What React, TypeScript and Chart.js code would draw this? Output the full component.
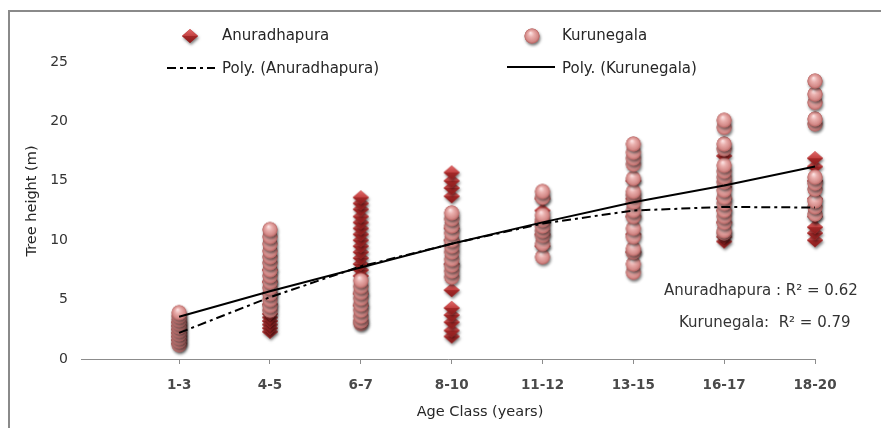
import React, { useEffect, useRef } from 'react';
import { Chart, registerables } from 'chart.js';

Chart.register(...registerables);

// ---------- data ----------
const ageClasses = ['1-3', '4-5', '6-7', '8-10', '11-12', '13-15', '16-17', '18-20'];
const yTickValues = [0, 5, 10, 15, 20, 25];

// Tree heights (m), one array per age class
const anuradhapuraHeights: number[][] = [
  [1.3, 1.6, 1.9, 2.2, 2.5, 2.8, 3.1],
  [2.3, 2.6, 2.9, 3.2, 3.5, 3.8, 4.6, 5.5, 6.5, 7.5],
  [4.5, 5.5, 7.0, 7.5, 8.0, 8.5, 9.0, 9.5, 10.0, 10.5, 11.0, 11.5, 12.0, 12.6, 13.1, 13.6],
  [1.9, 2.4, 3.1, 3.7, 4.3, 5.8, 8.0, 10.0, 11.0, 13.7, 14.4, 15.0, 15.7],
  [9.5, 10.5, 11.5, 12.5, 13.5],
  [9.0, 10.5, 12.0, 13.5, 15.0],
  [9.9, 10.3, 11.5, 12.5, 13.5, 14.5, 17.1],
  [10.0, 10.6, 11.1, 12.0, 13.5, 15.0, 16.2, 16.9],
];

const kurunegalaHeights: number[][] = [
  [1.2, 1.5, 1.8, 2.1, 2.4, 2.7, 3.0, 3.3, 3.6, 3.9],
  [4.1, 4.5, 5.0, 5.5, 6.0, 6.5, 7.0, 7.5, 8.1, 8.6, 9.1, 9.7, 10.3, 10.9],
  [3.0, 3.2, 3.6, 4.1, 4.6, 5.1, 5.6, 6.1, 6.6],
  [6.9, 7.4, 7.9, 8.4, 9.0, 9.5, 10.0, 10.6, 11.2, 11.8, 12.3],
  [8.6, 9.7, 10.4, 10.8, 11.2, 11.7, 12.1, 13.6, 14.1],
  [7.3, 8.0, 9.0, 9.3, 10.3, 11.0, 12.0, 12.5, 13.2, 13.8, 14.1, 15.2, 16.4, 16.9, 17.4, 18.1],
  [10.6, 10.8, 11.5, 12.0, 12.5, 13.1, 13.6, 14.2, 14.9, 15.3, 15.8, 16.3, 17.7, 18.1, 19.5, 20.1],
  [12.2, 12.8, 13.3, 14.3, 14.8, 15.3, 19.8, 20.2, 21.6, 22.3, 23.4],
];

// Polynomial trend lines at each class
const anuradhapuraTrend = [2.2, 5.2, 7.8, 9.7, 11.4, 12.5, 12.8, 12.75];
const kurunegalaTrend = [3.55, 5.7, 7.7, 9.7, 11.5, 13.2, 14.6, 16.2];

const legendLabels = ['Anuradhapura', 'Kurunegala', 'Poly. (Anuradhapura)', 'Poly. (Kurunegala)'];
const rSquaredNotes = ['Anuradhapura : R\u00B2 = 0.62', 'Kurunegala:  R\u00B2 = 0.79'];
const xTitle = 'Age Class (years)';
const yTitle = 'Tree height (m)';

const FONT = "'DejaVu Sans', sans-serif";
const DASH_DOT = [9, 4, 3, 4];

function makeSphere(): HTMLCanvasElement {
  const c = document.createElement('canvas');
  c.width = 24;
  c.height = 24;
  const g = c.getContext('2d')!;
  const cx = 12, cy = 12, r = 7.5;
  g.save();
  g.shadowColor = 'rgba(0,0,0,0.55)';
  g.shadowBlur = 3;
  g.shadowOffsetX = 1;
  g.shadowOffsetY = 2;
  g.beginPath();
  g.arc(cx, cy, r, 0, Math.PI * 2);
  g.fillStyle = '#c57070';
  g.fill();
  g.restore();
  const grad = g.createRadialGradient(cx - 1.5, cy - 3, 0.5, cx, cy, r);
  grad.addColorStop(0, '#fbe0e0');
  grad.addColorStop(0.35, '#eab0ae');
  grad.addColorStop(0.8, '#d48a88');
  grad.addColorStop(1, '#b56462');
  g.beginPath();
  g.arc(cx, cy, r, 0, Math.PI * 2);
  g.fillStyle = grad;
  g.fill();
  return c;
}

function makeDiamond(): HTMLCanvasElement {
  const c = document.createElement('canvas');
  c.width = 24;
  c.height = 24;
  const g = c.getContext('2d')!;
  const cx = 12, cy = 12, hw = 8, hh = 7;
  g.save();
  g.shadowColor = 'rgba(0,0,0,0.5)';
  g.shadowBlur = 3;
  g.shadowOffsetX = 1;
  g.shadowOffsetY = 2;
  g.beginPath();
  g.moveTo(cx, cy - hh);
  g.lineTo(cx + hw, cy);
  g.lineTo(cx, cy + hh);
  g.lineTo(cx - hw, cy);
  g.closePath();
  g.fillStyle = '#b03434';
  g.fill();
  g.restore();
  // top facets
  g.beginPath();
  g.moveTo(cx, cy - hh);
  g.lineTo(cx + hw, cy);
  g.lineTo(cx - hw, cy);
  g.closePath();
  const gt = g.createLinearGradient(0, cy - hh, 0, cy);
  gt.addColorStop(0, '#e06a6a');
  gt.addColorStop(1, '#c24040');
  g.fillStyle = gt;
  g.fill();
  // bottom facets
  g.beginPath();
  g.moveTo(cx - hw, cy);
  g.lineTo(cx + hw, cy);
  g.lineTo(cx, cy + hh);
  g.closePath();
  const gb = g.createLinearGradient(0, cy, 0, cy + hh);
  gb.addColorStop(0, '#a42828');
  gb.addColorStop(1, '#8a1e1e');
  g.fillStyle = gb;
  g.fill();
  return c;
}

export default function App() {
  const ref = useRef<HTMLCanvasElement>(null);

  useEffect(() => {
    const canvas = ref.current;
    if (!canvas) return;
    const sphere = makeSphere();
    const diamond = makeDiamond();

    const toPoints = (rows: number[][]) =>
      rows.flatMap((vals, i) => vals.map((v) => ({ x: i + 1, y: v })));
    const trendPoints = (vals: number[]) => vals.map((v, i) => ({ x: i + 1, y: v }));

    const decor = {
      id: 'decor',
      beforeDraw(chart: Chart) {
        const ctx = chart.ctx;
        ctx.save();
        ctx.fillStyle = '#ffffff';
        ctx.fillRect(0, 0, chart.width, chart.height);
        ctx.restore();
      },
      afterDraw(chart: Chart) {
        const ctx = chart.ctx;
        ctx.save();
        // outer chart border
        ctx.strokeStyle = '#8a8a8a';
        ctx.lineWidth = 2;
        ctx.beginPath();
        ctx.moveTo(9, chart.height);
        ctx.lineTo(9, 11);
        ctx.lineTo(chart.width, 11);
        ctx.stroke();

        // legend
        ctx.textBaseline = 'middle';
        ctx.textAlign = 'left';
        ctx.fillStyle = '#262626';
        ctx.font = `15px ${FONT}`;
        ctx.drawImage(diamond, 190 - 12, 36 - 12);
        ctx.fillText(legendLabels[0], 222, 36);
        ctx.drawImage(sphere, 532 - 12, 36 - 12);
        ctx.fillText(legendLabels[1], 562, 36);

        ctx.strokeStyle = '#000';
        ctx.lineWidth = 2;
        ctx.setLineDash(DASH_DOT);
        ctx.beginPath();
        ctx.moveTo(167, 68);
        ctx.lineTo(215, 68);
        ctx.stroke();
        ctx.setLineDash([]);
        ctx.fillText(legendLabels[2], 222, 69);
        ctx.beginPath();
        ctx.moveTo(507, 67);
        ctx.lineTo(555, 67);
        ctx.stroke();
        ctx.fillText(legendLabels[3], 562, 69);

        // R² notes
        ctx.fillStyle = '#333';
        ctx.font = `15px ${FONT}`;
        ctx.fillText(rSquaredNotes[0], 664, 291);
        ctx.fillText(rSquaredNotes[1], 679, 323);

        // axis titles
        ctx.fillStyle = '#262626';
        ctx.font = `14.5px ${FONT}`;
        ctx.textAlign = 'center';
        ctx.fillText(xTitle, 480, 412);
        ctx.translate(32, 201);
        ctx.rotate(-Math.PI / 2);
        ctx.fillText(yTitle, 0, 0);
        ctx.restore();
      },
    };

    const chart = new Chart(canvas, {
      type: 'scatter',
      data: {
        datasets: [
          {
            label: legendLabels[3],
            data: trendPoints(kurunegalaTrend),
            showLine: true,
            borderColor: '#000',
            borderWidth: 2,
            pointRadius: 0,
            clip: false,
            order: 0,
          },
          {
            label: legendLabels[2],
            data: trendPoints(anuradhapuraTrend),
            showLine: true,
            borderColor: '#000',
            borderWidth: 2,
            borderDash: DASH_DOT,
            pointRadius: 0,
            clip: false,
            order: 1,
          },
          {
            label: legendLabels[1],
            data: toPoints(kurunegalaHeights),
            pointStyle: sphere as any,
            pointRadius: 7,
            clip: false,
            order: 2,
          },
          {
            label: legendLabels[0],
            data: toPoints(anuradhapuraHeights),
            pointStyle: diamond as any,
            pointRadius: 7,
            clip: false,
            order: 3,
          },
        ],
      },
      options: {
        animation: false,
        responsive: false,
        devicePixelRatio: 1,
        events: [],
        layout: { padding: { top: 62, right: 66, bottom: 0, left: 0 } },
        plugins: {
          legend: { display: false },
          tooltip: { enabled: false },
          title: { display: false },
        },
        scales: {
          x: {
            type: 'linear',
            min: -0.08,
            max: 8,
            afterBuildTicks: (s: any) => {
              s.ticks = ageClasses.map((_, i) => ({ value: i + 1 }));
            },
            afterFit: (s: any) => {
              s.height = 69;
            },
            grid: {
              drawOnChartArea: false,
              drawTicks: true,
              tickLength: 5,
              color: '#8c8c8c',
              lineWidth: 1,
            },
            border: { display: true, color: '#8c8c8c', width: 1 },
            ticks: {
              autoSkip: false,
              maxRotation: 0,
              padding: 13,
              color: '#4a4a4a',
              font: { family: FONT, size: 13.5, weight: 'bold' },
              callback: (v: any) => ageClasses[Math.round(Number(v)) - 1] ?? '',
            },
          },
          y: {
            type: 'linear',
            min: 0,
            max: 25,
            afterBuildTicks: (s: any) => {
              s.ticks = yTickValues.map((v) => ({ value: v }));
            },
            afterFit: (s: any) => {
              s.width = 81;
            },
            grid: { display: false, drawTicks: false },
            border: { display: false },
            ticks: {
              padding: 13,
              color: '#333',
              font: { family: FONT, size: 14 },
            },
          },
        },
      },
      plugins: [decor],
    } as any);

    return () => chart.destroy();
  }, []);

  return (
    <div style={{ position: 'absolute', left: 0, top: 0, width: 881, height: 428, background: '#fff' }}>
      <canvas ref={ref} width={881} height={428} style={{ display: 'block' }} />
    </div>
  );
}
